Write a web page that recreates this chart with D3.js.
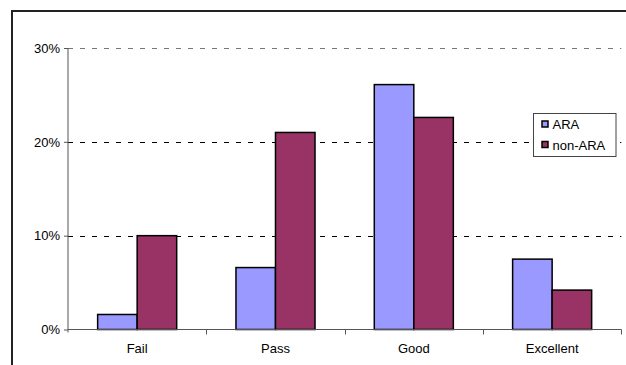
<!DOCTYPE html>
<html>
<head>
<meta charset="utf-8">
<script src="https://cdn.jsdelivr.net/npm/d3@7"></script>
<style>
  html, body { margin: 0; padding: 0; background: #fff; }
  svg { display: block; font-family: "Liberation Sans", Arial, sans-serif; }
</style>
</head>
<body>
<svg id="chart" width="626" height="365"></svg>
<script>
// Grade distribution, share of students per grade band
const categories = ["Fail", "Pass", "Good", "Excellent"];
const seriesNames = ["ARA", "non-ARA"];
const araValues = [0.016, 0.066, 0.261, 0.075];
const nonAraValues = [0.100, 0.210, 0.226, 0.042];
const yTicks = [0, 0.10, 0.20, 0.30];
const seriesColors = ["#9999FF", "#993366"];

const svg = d3.select("#chart");

// Plot area
const plotLeft = 68, plotRight = 621.3, plotTop = 48, plotBottom = 329.5;

const x = d3.scaleBand().domain(categories).range([plotLeft, plotRight]).padding(0);
const xInner = d3.scaleBand().domain(seriesNames).range([0, x.bandwidth()])
  .paddingInner(0).paddingOuter(0.75);
const y = d3.scaleLinear().domain([0, 0.30]).range([plotBottom, plotTop]);
const color = d3.scaleOrdinal().domain(seriesNames).range(seriesColors);

// Chart frame (runs off the right and bottom edges)
svg.append("rect")
  .attr("x", 12).attr("y", 11)
  .attr("width", 640).attr("height", 380)
  .attr("fill", "none").attr("stroke", "#222").attr("stroke-width", 2);

// Dashed horizontal gridlines
svg.append("g").selectAll("line")
  .data(yTicks.filter(d => d > 0))
  .join("line")
  .attr("x1", plotLeft).attr("x2", plotRight)
  .attr("y1", d => Math.round(y(d)) + 0.5).attr("y2", d => Math.round(y(d)) + 0.5)
  .attr("stroke", d => d === 0.30 ? "#777" : "#000")
  .attr("stroke-width", 1)
  .attr("stroke-dasharray", "5,7");

// Bars
const rows = categories.map((c, i) => ({
  category: c,
  values: [
    { series: "ARA", value: araValues[i] },
    { series: "non-ARA", value: nonAraValues[i] }
  ]
}));

svg.append("g").selectAll("g")
  .data(rows)
  .join("g")
  .attr("transform", d => `translate(${x(d.category)},0)`)
  .selectAll("rect")
  .data(d => d.values)
  .join("rect")
  .attr("x", d => xInner(d.series))
  .attr("width", xInner.bandwidth())
  .attr("y", d => y(d.value))
  .attr("height", d => y(0) - y(d.value))
  .attr("fill", d => color(d.series))
  .attr("stroke", "#000")
  .attr("stroke-width", 1.5);

// Y axis
const yAxis = svg.append("g")
  .attr("transform", `translate(${plotLeft},0)`)
  .call(d3.axisLeft(y).tickValues(yTicks).tickFormat(d3.format(".0%"))
    .tickSize(4).tickPadding(4));
yAxis.select(".domain").attr("stroke", "#555").attr("d", `M0,${plotTop}V${plotBottom + 3}`);
yAxis.selectAll(".tick line").attr("stroke", "#555");
yAxis.selectAll("text").attr("font-size", 13).attr("fill", "#000")
  .attr("font-family", "Liberation Sans, Arial, sans-serif");

// X axis with ticks on category boundaries
const xAxis = svg.append("g")
  .attr("transform", `translate(0,${plotBottom})`);
xAxis.append("line")
  .attr("x1", plotLeft).attr("x2", plotRight).attr("y1", 0).attr("y2", 0)
  .attr("stroke", "#555");
const boundaries = categories.map(c => x(c)).concat([x(categories[categories.length - 1]) + x.bandwidth()]);
xAxis.selectAll("line.tick")
  .data(boundaries.slice(1))
  .join("line")
  .attr("class", "tick")
  .attr("x1", d => Math.round(d) + 0.5).attr("x2", d => Math.round(d) + 0.5)
  .attr("y1", 0).attr("y2", 5)
  .attr("stroke", "#555");
xAxis.selectAll("text")
  .data(categories)
  .join("text")
  .attr("x", d => x(d) + x.bandwidth() / 2)
  .attr("y", 23.5)
  .attr("text-anchor", "middle")
  .attr("font-size", 13)
  .attr("fill", "#000")
  .text(d => d);

// Legend
const legend = svg.append("g").attr("transform", "translate(533.5,113.5)");
legend.append("rect")
  .attr("width", 82.5).attr("height", 43)
  .attr("fill", "#fff").attr("stroke", "#444").attr("stroke-width", 1);
const items = legend.selectAll("g.item")
  .data(seriesNames)
  .join("g")
  .attr("class", "item")
  .attr("transform", (d, i) => `translate(0,${11 + i * 20.5})`);
items.append("rect")
  .attr("x", 8.5).attr("y", -3.5)
  .attr("width", 6).attr("height", 6)
  .attr("fill", d => color(d))
  .attr("stroke", "#000").attr("stroke-width", 1.5);
items.append("text")
  .attr("x", 19).attr("y", 0)
  .attr("dy", "0.35em")
  .attr("font-size", 13)
  .attr("fill", "#000")
  .text(d => d);
</script>
</body>
</html>
